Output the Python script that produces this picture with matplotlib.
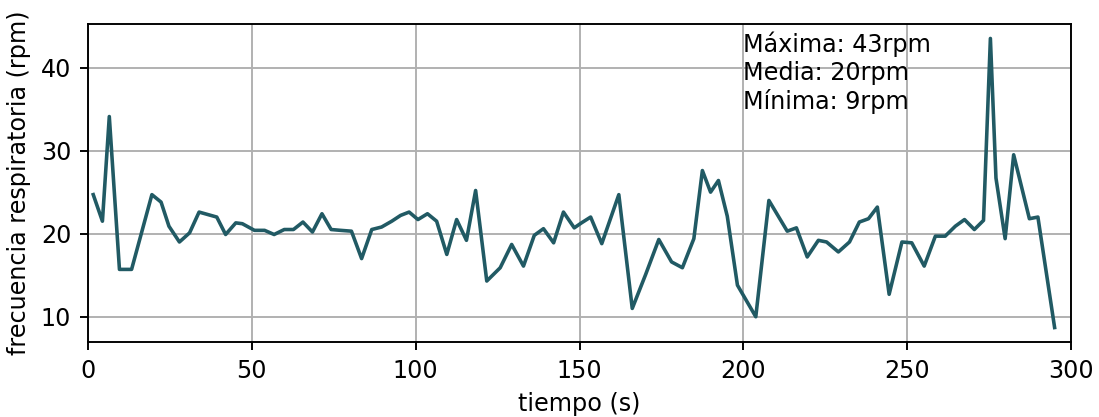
import matplotlib
matplotlib.use("Agg")
import matplotlib.pyplot as plt

tiempo = [1.6, 4.4, 6.5, 9.6, 13.3, 19.5, 22.3, 24.7, 27.9, 31.0, 33.9, 39.3,
          42.0, 45.1, 47.1, 50.8, 53.9, 56.8, 59.9, 62.7, 65.6, 68.5, 71.4, 74.2,
          77.1, 80.4, 83.5, 86.6, 89.6, 92.7, 95.4, 98.0, 100.7, 103.6, 106.4,
          109.5, 112.5, 115.5, 118.3, 121.7, 125.8, 129.3, 132.9, 136.2, 139.0,
          142.1, 145.1, 148.4, 150.6, 153.4, 156.8, 162.0, 166.1, 170.2, 174.2,
          178.1, 181.4, 184.9, 187.5, 190.0, 192.4, 195.1, 198.2, 203.8, 207.8,
          213.4, 216.2, 219.5, 222.9, 225.4, 229.0, 232.4, 235.4, 238.2, 240.9,
          244.5, 248.4, 251.4, 255.2, 258.6, 261.6, 264.7, 267.5, 270.5, 273.3,
          275.4, 277.1, 279.9, 282.5, 287.3, 289.9, 295.0]
frecuencia = [24.7, 21.5, 34.1, 15.7, 15.7, 24.7, 23.8, 20.9, 19.0, 20.1, 22.6, 22.0,
              19.9, 21.3, 21.2, 20.4, 20.4, 19.9, 20.5, 20.5, 21.4, 20.2, 22.4, 20.5,
              20.4, 20.3, 17.0, 20.5, 20.8, 21.5, 22.2, 22.6, 21.7, 22.4, 21.5,
              17.5, 21.7, 19.2, 25.2, 14.3, 15.9, 18.7, 16.1, 19.8, 20.6,
              18.9, 22.6, 20.7, 21.3, 22.0, 18.8, 24.7, 11.0, 15.1, 19.3,
              16.6, 15.9, 19.4, 27.6, 25.0, 26.4, 22.1, 13.8, 10.0, 24.0,
              20.3, 20.7, 17.2, 19.2, 19.0, 17.8, 19.0, 21.4, 21.8, 23.2,
              12.7, 19.0, 18.9, 16.1, 19.7, 19.7, 20.9, 21.7, 20.5, 21.6,
              43.5, 26.7, 19.4, 29.5, 21.8, 22.0, 8.7]
resumen = "Máxima: 43rpm\nMedia: 20rpm\nMínima: 9rpm"

dpi = 172
fig, ax = plt.subplots(figsize=(1099 / dpi, 417 / dpi), dpi=dpi)
ax.plot(tiempo, frecuencia, color='#215a64')
ax.text(200, 35, resumen)
ax.set_xlim(0, 300)
ax.set_xlabel('tiempo (s)')
ax.set_ylabel('frecuencia respiratoria (rpm)')
ax.grid(True)
fig.subplots_adjust(left=88 / 1099, right=1071 / 1099, top=1 - 24 / 417, bottom=1 - 342 / 417)
fig.savefig('out.png', dpi=dpi)
